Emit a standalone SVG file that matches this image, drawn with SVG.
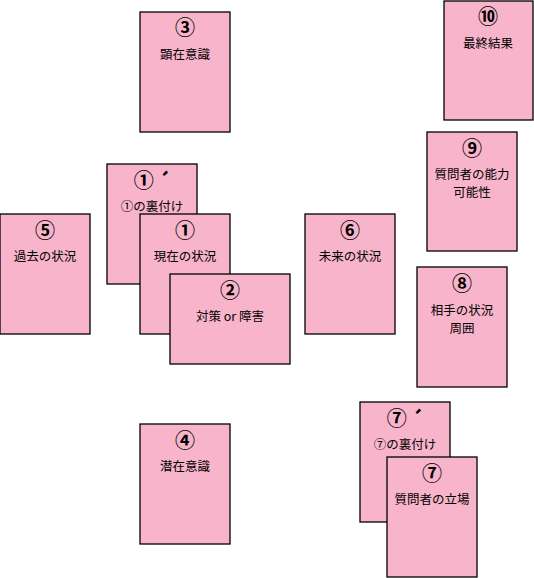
<svg xmlns="http://www.w3.org/2000/svg" width="534" height="578" viewBox="0 0 534 578">
<style>
.card{fill:#F8B4CB;stroke:#000;stroke-width:1.3}
.num{font-family:"Noto Sans CJK JP","DejaVu Sans",sans-serif;font-size:20px;font-weight:bold;text-anchor:middle;fill:#000}
.lbl{font-family:"Noto Sans CJK JP","DejaVu Sans",sans-serif;font-size:12.5px;text-anchor:middle;fill:#000}
</style>
<rect width="534" height="578" fill="#fff"/>
<g id="connectors"/>
<g id="n3"><rect class="card" x="140" y="12" width="90" height="120"/><text class="num" x="185" y="35">③</text><text class="lbl" x="185" y="59">顕在意識</text></g>
<g id="n10"><rect class="card" x="444" y="1" width="89" height="119"/><text class="num" x="488" y="24">⑩</text><text class="lbl" x="488" y="48">最終結果</text></g>
<g id="n9"><rect class="card" x="427" y="132" width="90" height="119"/><text class="num" x="472" y="156">⑨</text><text class="lbl" x="472" y="179">質問者の能力</text><text class="lbl" x="472" y="197">可能性</text></g>
<g id="n1p"><rect class="card" x="107" y="164" width="90" height="120"/><text class="num" x="152" y="188">①<tspan dx="4" dy="1">´</tspan></text><text class="lbl" x="152" y="211">①の裏付け</text></g>
<g id="n1"><rect class="card" x="140" y="214" width="90" height="120"/><text class="num" x="185" y="238">①</text><text class="lbl" x="185" y="261">現在の状況</text></g>
<g id="n2"><rect class="card" x="170" y="274" width="120" height="90"/><text class="num" x="230" y="298">②</text><text class="lbl" x="230" y="321">対策 or 障害</text></g>
<g id="n5"><rect class="card" x="0" y="214" width="90" height="120"/><text class="num" x="45" y="238">⑤</text><text class="lbl" x="45" y="261">過去の状況</text></g>
<g id="n6"><rect class="card" x="305" y="214" width="90" height="120"/><text class="num" x="350" y="238">⑥</text><text class="lbl" x="350" y="261">未来の状況</text></g>
<g id="n8"><rect class="card" x="417" y="267" width="90" height="120"/><text class="num" x="462" y="291">⑧</text><text class="lbl" x="462" y="315">相手の状況</text><text class="lbl" x="462" y="333">周囲</text></g>
<g id="n4"><rect class="card" x="140" y="424" width="90" height="120"/><text class="num" x="185" y="448">④</text><text class="lbl" x="185" y="471">潜在意識</text></g>
<g id="n7p"><rect class="card" x="360" y="402" width="90" height="120"/><text class="num" x="405" y="426">⑦<tspan dx="4" dy="1">´</tspan></text><text class="lbl" x="405" y="449">⑦の裏付け</text></g>
<g id="n7"><rect class="card" x="387" y="457" width="90" height="120"/><text class="num" x="432" y="481">⑦</text><text class="lbl" x="432" y="504">質問者の立場</text></g>
</svg>
